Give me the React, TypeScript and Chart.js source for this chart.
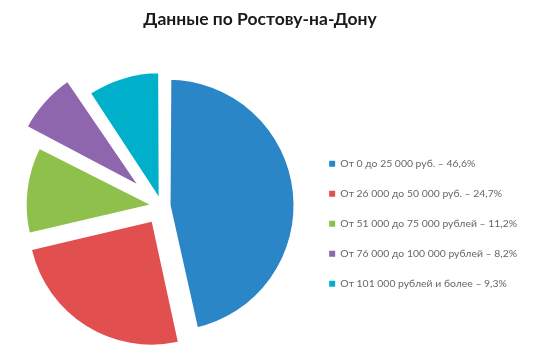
import React, { useEffect, useRef } from "react";
import { Chart, registerables } from "chart.js";

Chart.register(...registerables);

const titleText = "Данные по Ростову-на-Дону";
const categories = [
  "От 0 до 25 000 руб. – 46,6%",
  "От 26 000 до 50 000 руб. – 24,7%",
  "От 51 000 до 75 000 рублей – 11,2%",
  "От 76 000 до 100 000 рублей – 8,2%",
  "От 101 000 рублей и более – 9,3%",
];
const values = [46.6, 24.7, 11.2, 8.2, 9.3];
const colors = ["#2A86C7", "#E1504F", "#8FC04C", "#8E66AD", "#00B0CA"];
// explosion styling (Chart.js offset option) and white edge inset per slice
const explode = [25.8, 74, 38, 94, 29.7];
const edgeInset = [5.1, 0, 1.7, 4.8, 1.5];

export default function App() {
  const ref = useRef<HTMLCanvasElement | null>(null);
  useEffect(() => {
    document.body.style.margin = "0";
    const ctx = ref.current!;
    const chart = new Chart(ctx, {
      type: "pie",
      data: {
        labels: categories,
        datasets: [
          {
            data: values,
            backgroundColor: colors,
            borderColor: "#ffffff",
            borderWidth: edgeInset,
            offset: explode,
          },
        ],
      },
      options: {
        responsive: false,
        animation: false,
        radius: 123,
        layout: { padding: { left: -7, right: 25, top: 0, bottom: 0 } },
        plugins: {
          tooltip: { enabled: false },
          title: {
            display: true,
            text: titleText,
            color: "#1a1a1a",
            font: { family: "Lato", size: 17.5, weight: "bold", lineHeight: 1.2 },
            padding: { top: 9, bottom: 23 },
          },
          legend: {
            display: true,
            position: "right",
            title: {
              display: true,
              text: " ",
              font: { size: 10, lineHeight: 1.2 },
              padding: { top: 90, bottom: 0 },
            },
            labels: {
              boxWidth: 6,
              boxHeight: 6,
              padding: 6,
              color: "#262626",
              font: { family: "Lato", size: 10.4, lineHeight: 24 / 10.4 },
              generateLabels: (c: any) =>
                categories.map((t, i) => ({
                  text: [t],
                  fillStyle: colors[i],
                  strokeStyle: colors[i],
                  lineWidth: 0,
                  hidden: false,
                  index: i,
                })),
            },
          },
        },
      } as any,
    });
    return () => chart.destroy();
  }, []);
  return (
    <div style={{ width: 552, height: 359, background: "#fff" }}>
      <canvas ref={ref} width={552} height={359} />
    </div>
  );
}
